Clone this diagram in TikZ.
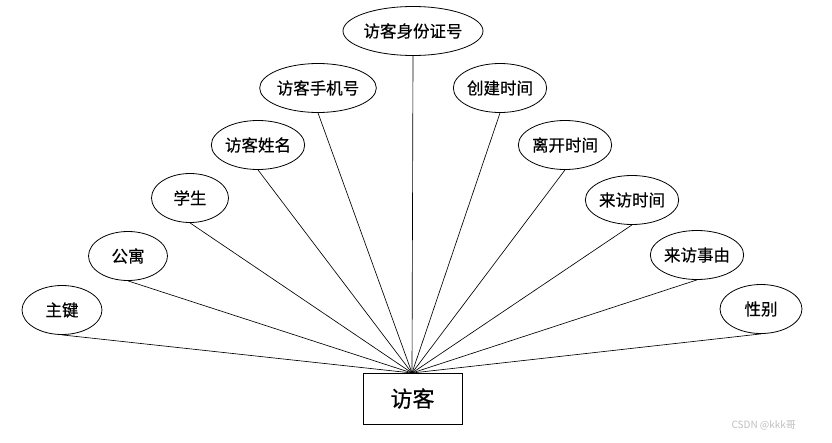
\documentclass[tikz,border=0pt]{standalone}
\usepackage{fontspec}
\setmainfont[FakeBold=0.4]{Noto Sans CJK SC}
\newfontfamily\wmfont{Noto Sans CJK SC}
\usetikzlibrary{shapes.geometric}
\begin{document}
\begin{tikzpicture}[x=1pt,y=-1pt,
  attr/.style={draw,ellipse,line width=0.8pt,inner sep=0pt,minimum height=49pt,font=\fontsize{16.5}{18}\selectfont},
  ent/.style={draw,rectangle,line width=0.8pt,minimum width=99pt,minimum height=51pt,inner sep=0pt,font=\fontsize{22}{24}\selectfont},
  link/.style={line width=0.65pt}]
\useasboundingbox (0,0) rectangle (832,442);
\node[ent] (e) at (412.5,398.5) {访客};
\coordinate (c) at (412,373);
\node[attr,minimum width=107pt] (a1) at (413,31) {访客身份证号};
\node[attr,minimum width=80pt] (a2) at (62,310) {主键};
\node[attr,minimum width=79pt] (a3) at (128,256) {公寓};
\node[attr,minimum width=77pt] (a4) at (190,198) {学生};
\node[attr,minimum width=90pt] (a5) at (258,145) {访客姓名};
\node[attr,minimum width=91pt] (a6) at (318,88) {访客手机号};
\node[attr,minimum width=85pt] (a7) at (500,88) {创建时间};
\node[attr,minimum width=85pt] (a8) at (565,145) {离开时间};
\node[attr,minimum width=87pt] (a9) at (632,200) {来访时间};
\node[attr,minimum width=85pt] (a10) at (697,255) {来访事由};
\node[attr,minimum width=82pt] (a11) at (761,309) {性别};
\foreach \n in {a1,a2,a3,a4,a5,a6,a7,a8,a9,a10,a11}
  \draw[link] (\n.south) -- (c);
\node[text=black!25,font=\wmfont\fontsize{10}{12}\selectfont,anchor=west] (wm) at (728,425) {CSDN @kkk哥};
\end{tikzpicture}
\end{document}
